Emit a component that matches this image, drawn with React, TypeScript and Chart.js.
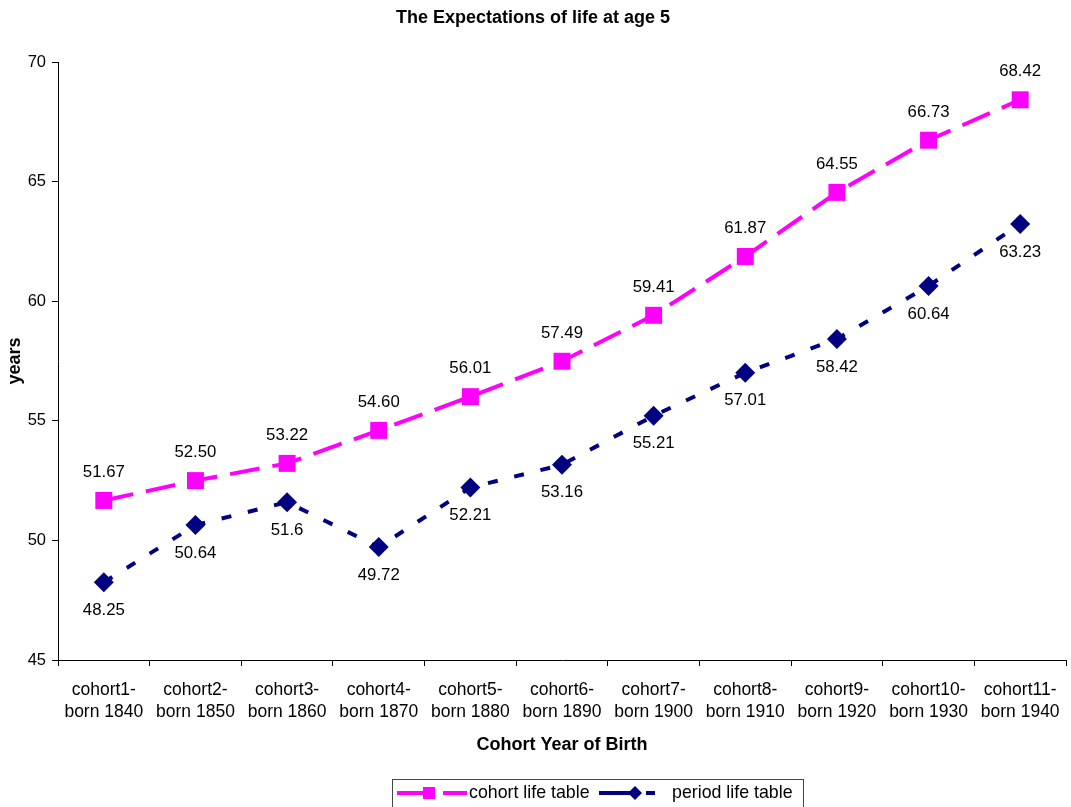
import React, { useEffect, useRef } from "react";
import { Chart, registerables } from "chart.js";

Chart.register(...registerables);

const categories: string[][] = [
  ["cohort1-", "born 1840"],
  ["cohort2-", "born 1850"],
  ["cohort3-", "born 1860"],
  ["cohort4-", "born 1870"],
  ["cohort5-", "born 1880"],
  ["cohort6-", "born 1890"],
  ["cohort7-", "born 1900"],
  ["cohort8-", "born 1910"],
  ["cohort9-", "born 1920"],
  ["cohort10-", "born 1930"],
  ["cohort11-", "born 1940"],
];

const cohortValues = [51.67, 52.5, 53.22, 54.6, 56.01, 57.49, 59.41, 61.87, 64.55, 66.73, 68.42];
const cohortLabels = ["51.67", "52.50", "53.22", "54.60", "56.01", "57.49", "59.41", "61.87", "64.55", "66.73", "68.42"];
const periodValues = [48.25, 50.64, 51.6, 49.72, 52.21, 53.16, 55.21, 57.01, 58.42, 60.64, 63.23];
const periodLabels = ["48.25", "50.64", "51.6", "49.72", "52.21", "53.16", "55.21", "57.01", "58.42", "60.64", "63.23"];

const seriesNames = ["cohort life table", "period life table"];
const yTicks = { min: 45, max: 70, step: 5 };

const FONT = "'Liberation Sans', Arial, Helvetica, sans-serif";
const MAGENTA = "#FF00FF";
const NAVY = "#000080";

const dataLabelPlugin = {
  id: "dataLabels",
  afterDatasetsDraw(chart: any) {
    const ctx = chart.ctx;
    ctx.save();
    ctx.font = `16.8px ${FONT}`;
    ctx.fillStyle = "#000";
    ctx.textAlign = "center";
    ctx.textBaseline = "middle";
    const sets = [
      { idx: 0, labels: cohortLabels, dy: -28 },
      { idx: 1, labels: periodLabels, dy: 28 },
    ];
    sets.forEach((s) => {
      const meta = chart.getDatasetMeta(s.idx);
      meta.data.forEach((pt: any, i: number) => {
        ctx.fillText(s.labels[i], pt.x, pt.y + s.dy);
      });
    });
    ctx.restore();
  },
};

const legendPlugin = {
  id: "customLegend",
  afterDraw(chart: any) {
    const ctx = chart.ctx;
    ctx.save();
    ctx.strokeStyle = "#444";
    ctx.lineWidth = 1;
    ctx.strokeRect(392.5, 779.5, 411, 30);
    const cy = 793;
    ctx.strokeStyle = MAGENTA;
    ctx.lineWidth = 4;
    ctx.beginPath();
    ctx.moveTo(397, cy);
    ctx.lineTo(434, cy);
    ctx.moveTo(443, cy);
    ctx.lineTo(467, cy);
    ctx.stroke();
    ctx.fillStyle = MAGENTA;
    ctx.fillRect(423, cy - 6, 12, 12);
    ctx.strokeStyle = NAVY;
    ctx.beginPath();
    ctx.moveTo(599, cy);
    ctx.lineTo(636, cy);
    ctx.moveTo(646, cy);
    ctx.lineTo(655, cy);
    ctx.stroke();
    ctx.fillStyle = NAVY;
    ctx.beginPath();
    ctx.moveTo(635, cy - 7);
    ctx.lineTo(642, cy);
    ctx.lineTo(635, cy + 7);
    ctx.lineTo(628, cy);
    ctx.closePath();
    ctx.fill();
    ctx.fillStyle = "#000";
    ctx.font = `17.8px ${FONT}`;
    ctx.textAlign = "left";
    ctx.textBaseline = "middle";
    ctx.fillText(seriesNames[0], 469, cy);
    ctx.fillText(seriesNames[1], 672, cy);
    ctx.restore();
  },
};

export default function App() {
  const canvasRef = useRef<HTMLCanvasElement | null>(null);

  useEffect(() => {
    document.body.style.margin = "0";
    const canvas = canvasRef.current;
    if (!canvas) return;
    const chart = new Chart(canvas, {
      type: "line",
      data: {
        labels: categories,
        datasets: [
          {
            label: seriesNames[0],
            data: cohortValues,
            borderColor: MAGENTA,
            backgroundColor: MAGENTA,
            borderWidth: 4,
            borderDash: [30, 13],
            pointStyle: "rect",
            pointRadius: 12,
            pointBorderWidth: 0,
            tension: 0,
            fill: false,
          },
          {
            label: seriesNames[1],
            data: periodValues,
            borderColor: NAVY,
            backgroundColor: NAVY,
            borderWidth: 4,
            borderDash: [10, 17],
            pointStyle: "rectRot",
            pointRadius: 10,
            pointBorderWidth: 0,
            tension: 0,
            fill: false,
          },
        ],
      },
      options: {
        animation: false,
        responsive: true,
        maintainAspectRatio: false,
        layout: { autoPadding: false, padding: { left: 0, right: 5, top: 0, bottom: 40 } },
        plugins: {
          legend: { display: false },
          tooltip: { enabled: false },
          title: {
            display: true,
            text: "The Expectations of life at age 5",
            color: "#000",
            font: { family: FONT, size: 18, weight: "bold", lineHeight: 1.2 },
            padding: { top: 7, bottom: 33.4 },
          },
        },
        scales: {
          x: {
            type: "category",
            offset: true,
            grid: {
              offset: true,
              drawOnChartArea: false,
              drawTicks: true,
              tickLength: 6,
              color: "#000",
            },
            border: { display: true, color: "#000", width: 1 },
            ticks: {
              color: "#000",
              font: { family: FONT, size: 17.5, lineHeight: 1.257 },
              padding: 13,
              maxRotation: 0,
              autoSkip: false,
            },
            title: {
              display: true,
              text: "Cohort Year of Birth",
              color: "#000",
              font: { family: FONT, size: 18, weight: "bold", lineHeight: 1.2 },
              padding: { top: 4, bottom: 11 },
            },
            afterFit(scale: any) {
              scale.height = 107;
              scale.paddingLeft = 0;
              scale.paddingRight = 0;
            },
          },
          y: {
            min: yTicks.min,
            max: yTicks.max,
            grid: {
              drawOnChartArea: false,
              drawTicks: true,
              tickLength: 6,
              color: "#000",
            },
            border: { display: true, color: "#000", width: 1 },
            ticks: {
              stepSize: yTicks.step,
              color: "#000",
              font: { family: FONT, size: 16.5 },
              padding: 6,
            },
            title: {
              display: true,
              text: "years",
              color: "#000",
              font: { family: FONT, size: 18, weight: "bold", lineHeight: 1.2 },
              padding: { top: 4, bottom: 4 },
            },
            afterFit(scale: any) {
              scale.width = 58;
            },
          },
        },
      },
      plugins: [dataLabelPlugin, legendPlugin],
    });
    return () => chart.destroy();
  }, []);

  return (
    <div style={{ position: "absolute", left: 0, top: 0, width: 1071, height: 807 }}>
      <canvas ref={canvasRef} />
    </div>
  );
}
